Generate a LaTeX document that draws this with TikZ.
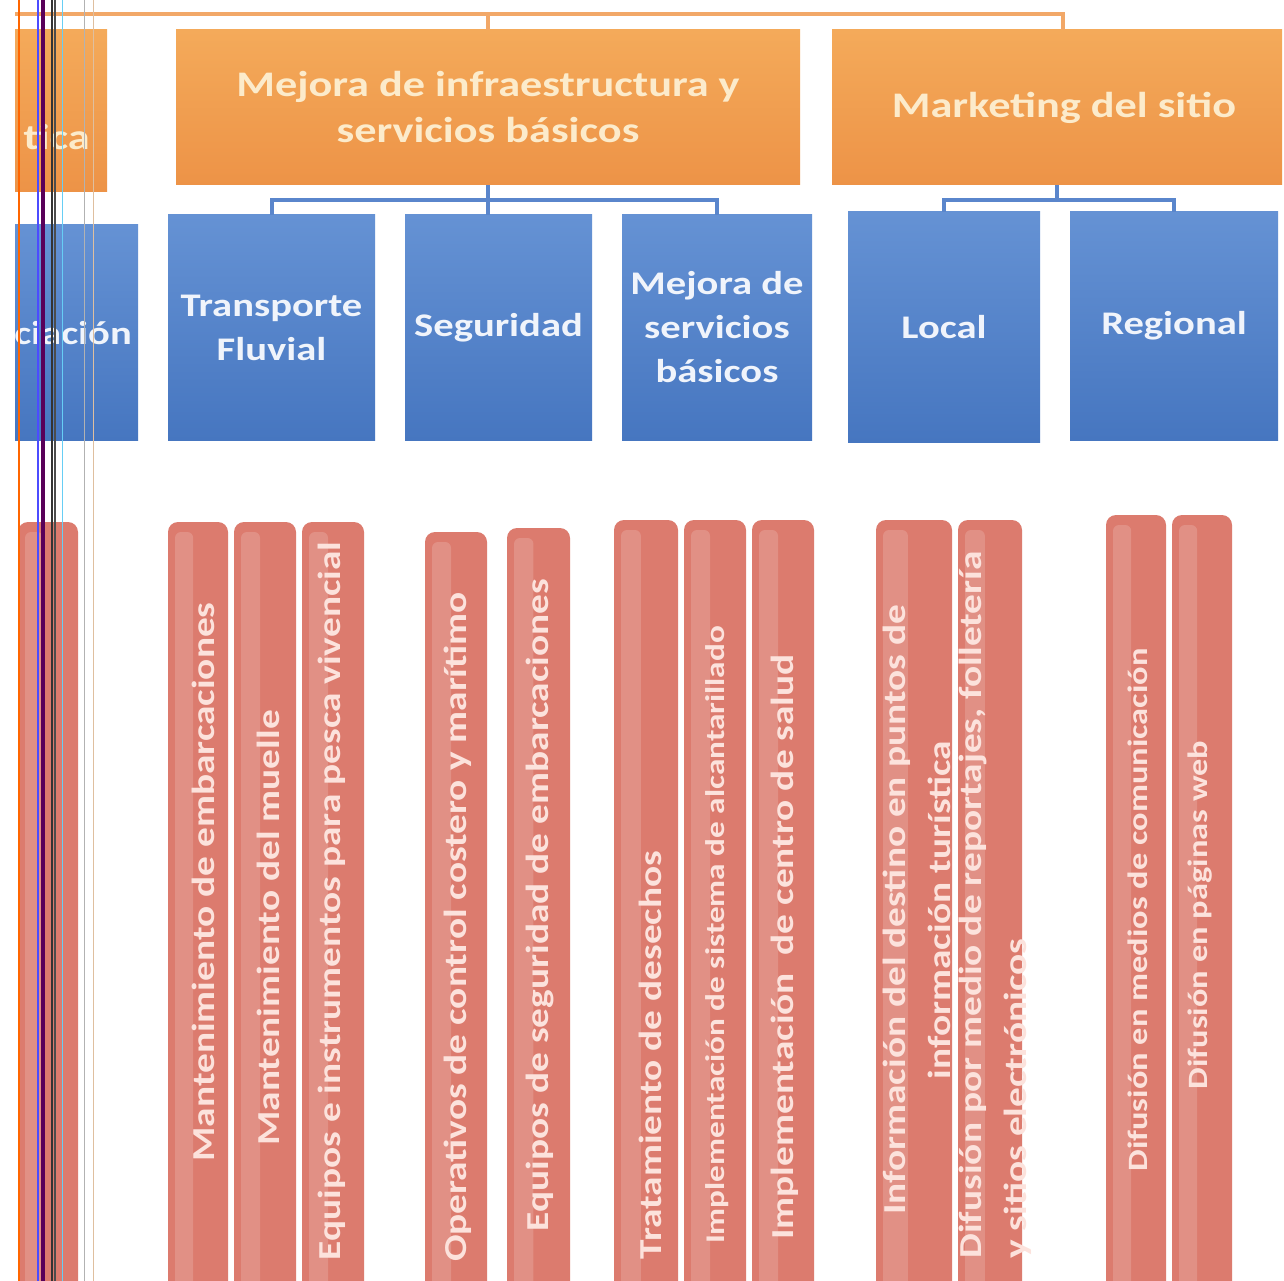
\documentclass[tikz,border=0pt]{standalone}
\usepackage{fontspec}
\usepackage{graphicx}
\setmainfont{Carlito}
\usetikzlibrary{calc}
\newcommand\sx[1]{\scalebox{1.23}[1]{#1}}
\definecolor{oTop}{HTML}{F4AA5A}
\definecolor{oMid}{HTML}{F09C4E}
\definecolor{oBot}{HTML}{ED9347}
\definecolor{oLine}{HTML}{F2A868}
\definecolor{oText}{HTML}{FCEBCB}
\definecolor{bTop}{HTML}{6592D4}
\definecolor{bMid}{HTML}{4E80CA}
\definecolor{bBot}{HTML}{4676C0}
\definecolor{bLine}{HTML}{5A86CC}
\definecolor{bText}{HTML}{F0F4FB}
\definecolor{rBase}{HTML}{DC7B6E}
\definecolor{rText}{HTML}{FCE2DC}
\begin{document}
\begin{tikzpicture}[x=1pt,y=-1pt,
  obox/.style={rectangle, inner sep=0pt, top color=oTop, middle color=oMid, bottom color=oBot, text=oText, font=\bfseries\fontsize{36}{46}\selectfont, align=center},
  bbox/.style={rectangle, inner sep=0pt, top color=bTop, middle color=bMid, bottom color=bBot, text=bText, font=\bfseries\fontsize{33}{44}\selectfont, align=center},
  rbar/.style={rounded corners=10pt, fill=rBase},
  rgloss/.style={rounded corners=6pt, fill=white, opacity=0.16},
  rtxt/.style={rotate=90, text=rText, font=\bfseries\fontsize{32}{45}\selectfont, inner sep=0pt},
  oconn/.style={draw=oLine, line width=4pt},
  bconn/.style={draw=bLine, line width=4pt},
  scan/.style={line width=#1}
]
\useasboundingbox (0,0) rectangle (1284,1281);
\clip (0,0) rectangle (1284,1281);
\fill[white] (0,0) rectangle (1284,1281);

% top-level connector
\coordinate (topL) at (15,14);
\coordinate (topR) at (1063,14);

% orange boxes
\node[obox, minimum width=92pt, minimum height=162pt] (o1) at (61,111) {};
\node[obox, minimum width=624pt, minimum height=155pt] (o2) at (488,107.5) {\sx{Mejora de infraestructura y}\\\sx{servicios básicos}};
\node[obox, minimum width=450pt, minimum height=155pt] (o3) at (1057,107.5) {\hspace*{14pt}\sx{Marketing del sitio}};
\node[text=oText, font=\bfseries\fontsize{36}{46}\selectfont, anchor=east, inner sep=0pt] (o1t) at (90,137) {\sx{tica}};

\draw[oconn] (topL) -- (topR) -- (topR |- o3.north);
\draw[oconn] (o2.north |- topL) -- (o2.north);

% blue boxes
\node[bbox, minimum width=123pt, minimum height=215pt] (b0) at (76.5,332.5) {};
\node[text=bText, font=\bfseries\fontsize{33}{44}\selectfont, anchor=east, inner sep=0pt] (b0t) at (132,333) {\sx{ciación}};
\node[bbox, minimum width=207pt, minimum height=225pt] (b1) at (271.5,327.5) {\sx{Transporte}\\\sx{Fluvial}};
\node[bbox, minimum width=187pt, minimum height=225pt] (b2) at (498.5,327.5) {\sx{Seguridad}};
\node[bbox, minimum width=190pt, minimum height=225pt] (b3) at (717,327.5) {\sx{Mejora de}\\\sx{servicios}\\\sx{básicos}};
\node[bbox, minimum width=192pt, minimum height=230pt] (b4) at (944,327) {\sx{Local}};
\node[bbox, minimum width=208pt, minimum height=228pt] (b5) at (1174,326) {\sx{Regional}};

\coordinate (j2) at ($(o2.south)+(0,15)$);
\draw[bconn] (o2.south) -- (o2.south |- b2.north);
\draw[bconn] (b1.north) |- (j2) -| (b3.north);
\coordinate (j3) at ($(o3.south)+(0,15)$);
\draw[bconn] (o3.south) -- (j3);
\draw[bconn] (b4.north) |- (j3) -| (b5.north);

% red bars
\foreach \a/\b/\t in {18/78/522, 168/228/522, 234/296/522, 302/364/522, 425/487/532, 507/570/528, 614/678/520, 684/746/520, 752/814/520, 876/952/520, 958/1022/520, 1106/1166/515, 1172/1232/515}{
  \path[rbar] (\a,\t) rectangle (\b,1310);
  \path[rgloss] ({\a+7},{\t+10}) rectangle ({\a+0.42*(\b-\a)},1300);
}

\node[rtxt] (r1) at (203,882) {\sx{Mantenimiento de embarcaciones}};
\node[rtxt] (r2) at (268,928) {\sx{Mantenimiento del muelle}};
\node[rtxt] (r3) at (332,901) {\sx{Equipos e instrumentos para pesca vivencial}};
\node[rtxt] (r4) at (458,927) {\sx{Operativos de control costero y marítimo}};
\node[rtxt] (r5) at (540,905) {\sx{Equipos de seguridad de embarcaciones}};
\node[rtxt] (r6) at (650,1055) {\sx{Tratamiento de desechos}};
\node[rtxt, font=\bfseries\fontsize{27}{40}\selectfont] (r7) at (717,935) {\sx{Implementación de sistema de alcantarillado}};
\node[rtxt] (r8) at (785,947) {\sx{Implementación\ \ de centro de salud}};
\node[rtxt, align=center] (r9) at (917,910) {\sx{Información del destino en puntos de}\\\sx{información turística}};
\node[rtxt, align=left] (r10) at (995,905) {\sx{Difusión por medio de reportajes, folletería}\\\sx{y sitios electrónicos}};
\node[rtxt, font=\bfseries\fontsize{28}{40}\selectfont] (r11) at (1138,910) {\sx{Difusión en medios de comunicación}};
\node[rtxt, font=\bfseries\fontsize{28}{40}\selectfont] (r12) at (1200,915) {\sx{Difusión en páginas web}};

% scanner streaks
\draw[scan=2pt, draw=orange!80!red] (19,0) -- (19,1281);
\draw[scan=2.5pt, draw=blue!70] (38,0) -- (38,1281);
\draw[scan=3.5pt, draw=violet!70!black] (43,0) -- (43,1281);
\draw[scan=1.5pt, draw=black!80] (52,0) -- (52,1281);
\draw[scan=1.5pt, draw=black!70] (55,0) -- (55,1281);
\draw[scan=1pt, draw=cyan!60] (62,0) -- (62,1281);
\draw[scan=0.8pt, draw=gray!60] (84,0) -- (84,1281);
\draw[scan=1pt, draw=brown!50] (93,0) -- (93,1281);
\end{tikzpicture}
\end{document}
